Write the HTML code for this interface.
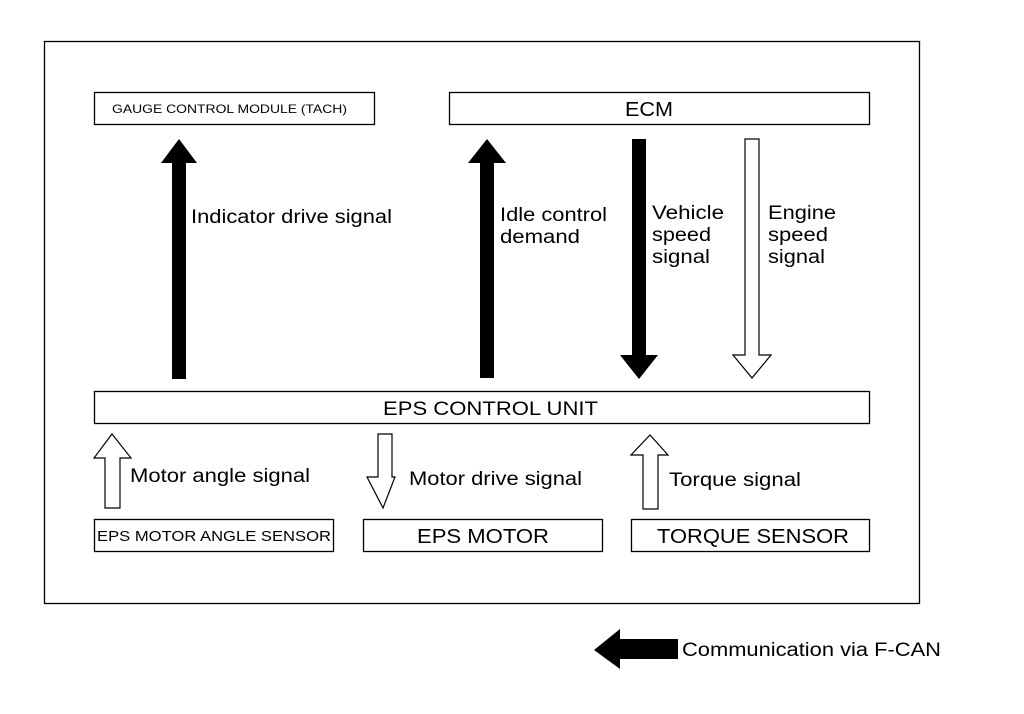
<!DOCTYPE html>
<html><head><meta charset="utf-8"><style>html,body{margin:0;padding:0;background:#fff}svg{display:block}text{font-family:"Liberation Sans",sans-serif;fill:#000}</style></head><body>
<svg width="1024" height="714" viewBox="0 0 1024 714" xmlns="http://www.w3.org/2000/svg">
<g fill="none" stroke="#000" stroke-width="1.3">
<rect x="44.5" y="41.5" width="875" height="562"/>
<rect x="94.5" y="92.5" width="280" height="32"/>
<rect x="449.5" y="92.5" width="420" height="32"/>
<rect x="94.5" y="391.5" width="775" height="32"/>
<rect x="94.5" y="519.5" width="239" height="32"/>
<rect x="363.5" y="519.5" width="239" height="32"/>
<rect x="631.5" y="519.5" width="238" height="32"/>
</g>
<g fill="#000">
<polygon points="179,139 197,163 186,163 186,379 172,379 172,163 161,163"/>
<polygon points="487,139 506,163 494,163 494,378 480,378 480,163 468,163"/>
<polygon points="632,139 646,139 646,355 658,355 639,379 620,355 632,355"/>
<polygon points="594,650 620,629 620,639 678,639 678,659 620,659 620,669"/>
</g>
<g fill="#fff" stroke="#000" stroke-width="1.2">
<polygon points="745,139 759,139 759,355 771,355 752,378 733,355 745,355"/>
<polygon points="112,434 131,458 120,458 120,508 105,508 105,458 94,458"/>
<polygon points="650,435 668,455 658,455 658,509 643,509 643,455 631,455"/>
<polygon points="378,434 392,434 392,477 395,477 383,508 367,477 378,477"/>
</g>
<g lengthAdjust="spacingAndGlyphs">
<text x="112" y="113" font-size="12" textLength="235" lengthAdjust="spacingAndGlyphs">GAUGE CONTROL MODULE (TACH)</text>
<text x="625" y="116" font-size="20" textLength="48" lengthAdjust="spacingAndGlyphs">ECM</text>
<text x="383" y="415" font-size="19" textLength="215" lengthAdjust="spacingAndGlyphs">EPS CONTROL UNIT</text>
<text x="97" y="541" font-size="15" textLength="234" lengthAdjust="spacingAndGlyphs">EPS MOTOR ANGLE SENSOR</text>
<text x="417" y="543" font-size="20" textLength="132" lengthAdjust="spacingAndGlyphs">EPS MOTOR</text>
<text x="657" y="543" font-size="20" textLength="192" lengthAdjust="spacingAndGlyphs">TORQUE SENSOR</text>
<text x="191" y="223" font-size="19" textLength="201" lengthAdjust="spacingAndGlyphs">Indicator drive signal</text>
<text x="500" y="221" font-size="19" textLength="107" lengthAdjust="spacingAndGlyphs">Idle control</text>
<text x="500" y="243" font-size="19" textLength="80" lengthAdjust="spacingAndGlyphs">demand</text>
<text x="652" y="219" font-size="19" textLength="72" lengthAdjust="spacingAndGlyphs">Vehicle</text>
<text x="652" y="241" font-size="19" textLength="59" lengthAdjust="spacingAndGlyphs">speed</text>
<text x="652" y="263" font-size="19" textLength="58" lengthAdjust="spacingAndGlyphs">signal</text>
<text x="768" y="219" font-size="19" textLength="68" lengthAdjust="spacingAndGlyphs">Engine</text>
<text x="768" y="241" font-size="19" textLength="60" lengthAdjust="spacingAndGlyphs">speed</text>
<text x="768" y="263" font-size="19" textLength="57" lengthAdjust="spacingAndGlyphs">signal</text>
<text x="130" y="482" font-size="19" textLength="180" lengthAdjust="spacingAndGlyphs">Motor angle signal</text>
<text x="409" y="485" font-size="19" textLength="173" lengthAdjust="spacingAndGlyphs">Motor drive signal</text>
<text x="669" y="486" font-size="19" textLength="132" lengthAdjust="spacingAndGlyphs">Torque signal</text>
<text x="682" y="656" font-size="19" textLength="259" lengthAdjust="spacingAndGlyphs">Communication via F-CAN</text>
</g>
</svg>
</body></html>
